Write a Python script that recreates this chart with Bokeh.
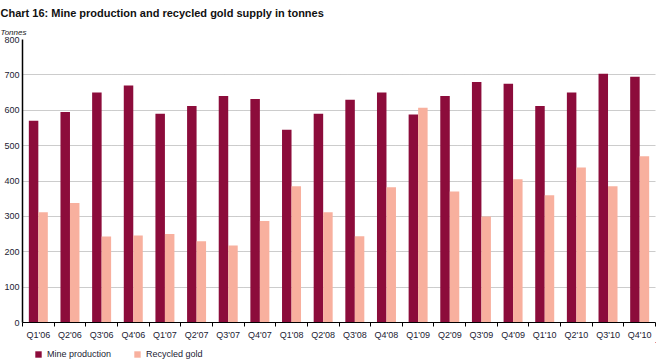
from bokeh.plotting import figure
from bokeh.layouts import column
from bokeh.models import (Range1d, FixedTicker, Legend, LegendItem, Title, ColumnDataSource)
from bokeh.embed import file_html
from bokeh.resources import INLINE

quarters = ["Q1'06", "Q2'06", "Q3'06", "Q4'06", "Q1'07", "Q2'07", "Q3'07", "Q4'07",
            "Q1'08", "Q2'08", "Q3'08", "Q4'08", "Q1'09", "Q2'09", "Q3'09", "Q4'09",
            "Q1'10", "Q2'10", "Q3'10", "Q4'10"]
mine_production = [570, 595, 650, 670, 590, 612, 640, 632, 545, 590,
                   630, 650, 588, 640, 680, 675, 612, 650, 703, 695]
recycled_gold = [312, 338, 243, 246, 250, 230, 218, 287, 385, 312,
                 244, 382, 607, 370, 300, 405, 360, 438, 385, 470]
y_ticks = [0, 100, 200, 300, 400, 500, 600, 700, 800]

MINE = "#8C0C3B"
RECY = "#F8B09E"
FONT = "Liberation Sans"

n = len(quarters)
centers = [i + 0.5 for i in range(n)]
src = ColumnDataSource(dict(
    xm=[c - 0.15 for c in centers], xr=[c + 0.15 for c in centers],
    mine=mine_production, recy=recycled_gold))

p = figure(frame_width=633, frame_height=283, output_backend="svg", toolbar_location=None,
           x_range=Range1d(0, n), y_range=Range1d(0, 800),
           min_border_left=22, min_border_right=5, min_border_top=2, min_border_bottom=0)
p.outline_line_color = None
p.background_fill_color = "white"
p.border_fill_color = "white"

r1 = p.vbar(x="xm", top="mine", width=0.3, source=src, fill_color=MINE, line_color=None)
r2 = p.vbar(x="xr", top="recy", width=0.3, source=src, fill_color=RECY, line_color=None)

# titles
p.add_layout(Title(text="Tonnes", text_font=FONT, text_font_style="italic",
                   text_font_size="8px", text_color="#222", offset=-22, standoff=6), "above")
p.add_layout(Title(text="Chart 16: Mine production and recycled gold supply in tonnes",
                   text_font=FONT, text_font_style="bold",
                   text_font_size="11px", text_color="#111", offset=-22, standoff=8), "above")

# x axis
xa = p.xaxis[0]
xa.ticker = FixedTicker(ticks=centers, minor_ticks=list(range(n + 1)))
xa.major_label_overrides = {c: q for c, q in zip(centers, quarters)}
xa.major_tick_out = 0
xa.major_tick_in = 0
xa.minor_tick_out = 4
xa.minor_tick_in = 0
xa.minor_tick_line_color = "black"
xa.axis_line_color = "black"
xa.major_label_text_font = FONT
xa.major_label_text_font_size = "9px"
xa.major_label_text_color = "#223"
xa.major_label_standoff = 3

ya = p.yaxis[0]
ya.ticker = FixedTicker(ticks=y_ticks)
ya.major_tick_out = 0
ya.major_tick_in = 0
ya.minor_tick_out = 0
ya.minor_tick_in = 0
ya.axis_line_color = "black"
ya.axis_line_width = 1.5
ya.major_label_text_font = FONT
ya.major_label_text_font_size = "9px"
ya.major_label_text_color = "#223"
ya.major_label_standoff = 3

p.xgrid.grid_line_color = None
p.ygrid.ticker = FixedTicker(ticks=y_ticks)
p.ygrid.grid_line_color = "#999"
p.ygrid.grid_line_dash = "1 1"
p.ygrid.grid_line_width = 1

# legend strip below the chart (its glyphs share the data but lie outside its view)
lg = figure(width=660, height=19, output_backend="svg", toolbar_location=None,
            x_axis_type=None, y_axis_type=None, min_border=0,
            x_range=Range1d(-3, -2), y_range=Range1d(-3, -2))
lg.outline_line_color = None
lg.grid.visible = False
l1 = lg.vbar(x="xm", top="mine", width=0.3, source=src, fill_color=MINE, line_color=None)
l2 = lg.vbar(x="xr", top="recy", width=0.3, source=src, fill_color=RECY, line_color=None)
legend = Legend(items=[LegendItem(label="Mine production", renderers=[l1]),
                       LegendItem(label="Recycled gold", renderers=[l2])],
                orientation="horizontal", location=(12, 2),
                label_text_font=FONT, label_text_font_size="9px", label_text_color="#223",
                glyph_width=8, glyph_height=8, label_standoff=5, spacing=22,
                label_height=9, label_width=60,
                padding=0, margin=0, border_line_color=None, background_fill_alpha=0)
lg.add_layout(legend)

layout = column(p, lg, spacing=0)
open("out.html", "w").write(file_html(layout, INLINE))
